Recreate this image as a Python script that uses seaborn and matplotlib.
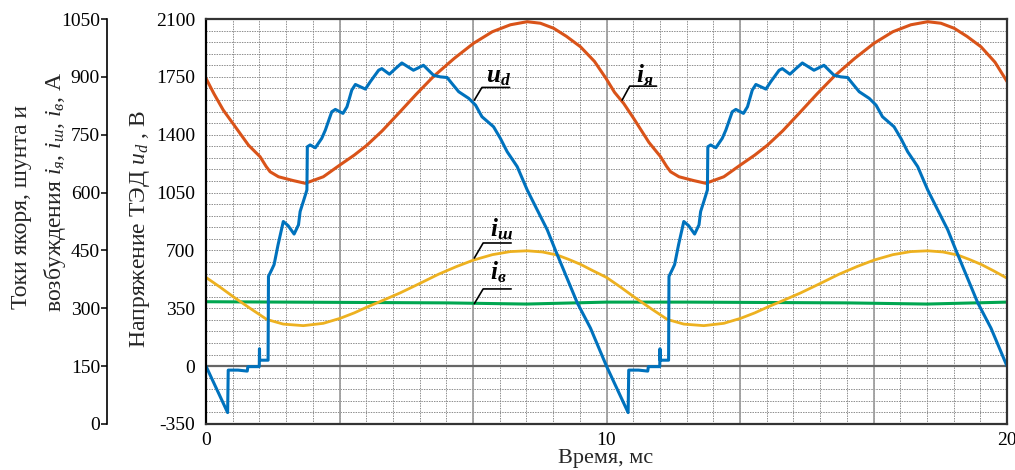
import matplotlib
matplotlib.use("Agg")

import matplotlib.pyplot as plt
import numpy as np
import seaborn as sns
from matplotlib.ticker import MultipleLocator

sns.set_theme(style="white")
plt.rcParams['font.family'] = ['Liberation Serif', 'DejaVu Serif']
plt.rcParams['mathtext.fontset'] = 'custom'
plt.rcParams['mathtext.rm'] = 'Liberation Serif'
plt.rcParams['mathtext.it'] = 'Liberation Serif:italic'
plt.rcParams['mathtext.bf'] = 'Liberation Serif:bold'
plt.rcParams['mathtext.bfit'] = 'Liberation Serif:italic:bold'
plt.rcParams['axes.unicode_minus'] = False

# напряжение ТЭД u_d, В
t_ud = [0.00, 0.54, 0.555, 0.80, 1.03, 1.045, 1.33, 1.335, 1.34, 1.55, 1.56, 1.64, 1.70, 1.80,
        1.93, 2.05, 2.20, 2.31, 2.35, 2.43, 2.52, 2.53, 2.60, 2.73, 2.89, 2.98, 3.14, 3.23,
        3.42, 3.52, 3.64, 3.73, 3.98, 4.10, 4.31, 4.39, 4.58, 4.73, 4.89, 5.18, 5.43, 5.68,
        5.85, 6.02, 6.14, 6.31, 6.56, 6.73, 6.89, 7.18, 7.35, 7.52, 7.77, 8.02, 8.27, 8.52,
        8.72, 9.27, 9.60,
        10.00, 10.54, 10.555, 10.80, 11.03, 11.045, 11.33, 11.335, 11.34, 11.55, 11.56, 11.64,
        11.70, 11.80, 11.93, 12.05, 12.20, 12.31, 12.35, 12.43, 12.52, 12.53, 12.60, 12.73,
        12.89, 12.98, 13.14, 13.23, 13.42, 13.52, 13.64, 13.73, 13.98, 14.10, 14.31, 14.39,
        14.58, 14.73, 14.89, 15.18, 15.43, 15.68, 15.85, 16.02, 16.14, 16.31, 16.56, 16.73,
        16.89, 17.18, 17.35, 17.52, 17.77, 18.02, 18.27, 18.52, 18.72, 19.27, 19.60, 20.00]
u_d = [0, -281, -24, -24, -30, -3, -3, 105, 36, 36, 543, 583, 614, 735,
       875, 850, 799, 855, 935, 996, 1066, 1327, 1338, 1321, 1378, 1428, 1539, 1553,
       1529, 1569, 1670, 1704, 1676, 1720, 1790, 1800, 1766, 1800, 1834, 1790, 1820, 1760,
       1750, 1746, 1710, 1660, 1620, 1579, 1509, 1448, 1378, 1297, 1207, 1066, 945, 825,
       704, 383, 230,
       0, -281, -24, -24, -30, -3, -3, 105, 36, 36, 543, 583,
       614, 735, 875, 850, 799, 855, 935, 996, 1066, 1327, 1338, 1321,
       1378, 1428, 1539, 1553, 1529, 1569, 1670, 1704, 1676, 1720, 1790, 1800,
       1766, 1800, 1834, 1790, 1820, 1760, 1750, 1746, 1710, 1660, 1620, 1579,
       1509, 1448, 1378, 1297, 1207, 1066, 945, 825, 704, 383, 230, 0]

# ток якоря i_я, А
t_ia = [0.00, 0.20, 0.43, 0.68, 1.06, 1.35, 1.50, 1.60, 1.81, 2.18, 2.48, 2.93, 3.35, 3.70,
        4.02, 4.40, 4.85, 5.25, 5.68, 6.20, 6.68, 7.15, 7.60, 8.02, 8.35, 8.68, 9.00, 9.35,
        9.70,
        10.00, 10.20, 10.43, 10.68, 11.06, 11.35, 11.50, 11.60, 11.81, 12.18, 12.48, 12.93,
        13.35, 13.70, 14.02, 14.40, 14.85, 15.25, 15.68, 16.20, 16.68, 17.15, 17.60, 18.02,
        18.35, 18.68, 19.00, 19.35, 19.70, 20.00]
i_ya = [896, 856, 814, 778, 723, 693, 668, 654, 641, 631, 624, 641, 672, 697,
        723, 760, 810, 855, 901, 948, 987, 1017, 1035, 1043, 1039, 1026, 1005, 978,
        940,
        894, 860, 831, 792, 730, 693, 668, 654, 641, 631, 624, 641,
        672, 697, 723, 760, 810, 855, 901, 948, 987, 1017, 1035, 1043,
        1039, 1026, 1005, 978, 938, 888]

# ток шунта i_ш, А
t_ish = [0.00, 0.35, 0.68, 1.10, 1.52, 1.93, 2.43, 2.93, 3.35, 3.70, 4.02, 4.45, 4.85, 5.35,
         5.80, 6.25, 6.68, 7.15, 7.60, 8.02, 8.40, 8.77, 9.05, 9.35, 9.65,
         10.00, 10.35, 10.68, 11.10, 11.52, 11.93, 12.43, 12.93, 13.35, 13.70, 14.02, 14.45,
         14.85, 15.35, 15.80, 16.25, 16.68, 17.15, 17.60, 18.02, 18.40, 18.77, 19.05, 19.35,
         19.65, 20.00]
i_sh = [380, 355, 330, 300, 271, 259, 255, 261, 274, 288, 303, 322, 340, 365,
        388, 408, 425, 439, 447, 449, 446, 438, 427, 414, 398,
        380, 355, 330, 300, 271, 259, 255, 261, 274, 288, 303, 322,
        340, 365, 388, 408, 425, 439, 447, 449, 446, 438, 427, 414,
        398, 378]

# ток возбуждения i_в, А
t_iv = [0, 2, 4, 6, 8, 10, 12, 14, 16, 18, 20]
i_v = [317, 316, 315, 314, 311, 316, 316, 315, 314, 311, 316]

# подписи кривых: (текст, точка на кривой, излом, конец черты, позиция текста) в единицах u_d
callouts = [
    (r"$\mathbfit{u}_{\mathbfit{d}}$", (6.70, 1609), (6.89, 1686), 7.58, (7.00, 1719)),
    (r"$\mathbfit{i}_{\mathbfit{я}}$", (10.39, 1609), (10.58, 1694), 11.25, (10.74, 1719)),
    (r"$\mathbfit{i}_{\mathbfit{ш}}$", (6.70, 654), (6.92, 745), 7.62, (7.08, 782)),
    (r"$\mathbfit{i}_{\mathbfit{в}}$", (6.70, 378), (6.92, 467), 7.62, (7.08, 523)),
]

c_blue = '#0072BD'
c_orange = '#D95319'
c_yellow = '#EDB120'
c_green = '#00A650'

fig = plt.figure(figsize=(10.15, 4.7), dpi=100)
ax_i = fig.add_axes([206 / 1015, 46 / 470, 801 / 1015, 405 / 470])
ax_u = ax_i.twinx()

# сетка
ax_i.set_xlim(0, 20)
ax_i.set_ylim(0, 1050)
ax_i.xaxis.set_major_locator(MultipleLocator(10))
ax_i.xaxis.set_minor_locator(MultipleLocator(2 / 3))
ax_i.yaxis.set_major_locator(MultipleLocator(150))
ax_i.yaxis.set_minor_locator(MultipleLocator(30))
ax_i.grid(which='both', linestyle=(0, (1.6, 1.2)), color='#858585', linewidth=0.65)
ax_i.set_axisbelow(True)
for xv in np.arange(1, 6) * 10 / 3:
    ax_i.axvline(xv, color='#a0a0a0', linewidth=1.3, zorder=1.5)

sns.lineplot(x=t_iv, y=i_v, ax=ax_i, color=c_green, linewidth=2.2, sort=False, estimator=None)
sns.lineplot(x=t_ish, y=i_sh, ax=ax_i, color=c_yellow, linewidth=2.0, sort=False, estimator=None)
sns.lineplot(x=t_ia, y=i_ya, ax=ax_i, color=c_orange, linewidth=2.2, sort=False, estimator=None)

ax_u.set_ylim(-350, 2100)
ax_u.axhline(0, color='#666666', linewidth=1.6, zorder=1)
sns.lineplot(x=t_ud, y=u_d, ax=ax_u, color=c_blue, linewidth=2.2, sort=False, estimator=None)
ax_u.set_ylim(-350, 2100)
ax_u.set_xlim(0, 20)
ax_u.set_yticks(np.arange(-350, 2101, 350))
ax_u.yaxis.tick_left()
ax_u.set_ylabel("")
ax_u.set_xlabel("")

for label, p0, p1, x_end, p_txt in callouts:
    ax_u.plot([p0[0], p1[0], x_end], [p0[1], p1[1], p1[1]], color='black', linewidth=1.2)
    ax_u.text(p_txt[0], p_txt[1], label, fontsize=18, ha='left', va='baseline', color='black')

# оси
ax_i.spines['left'].set_position(('outward', 71.3))
ax_i.spines['left'].set_color('black')
ax_i.spines['left'].set_linewidth(1.2)
for s in ['top', 'right', 'bottom']:
    ax_i.spines[s].set_visible(False)
ax_i.tick_params(axis='y', which='major', direction='out', length=4, width=1.1,
                 color='black', pad=1, labelsize=14, left=True)
ax_i.tick_params(axis='x', which='major', length=0, pad=6, labelsize=14)
ax_i.tick_params(which='minor', length=0)
ax_i.set_xlabel("")
ax_i.set_ylabel("")

for s in ['top', 'right', 'bottom', 'left']:
    ax_u.spines[s].set_visible(True)
    ax_u.spines[s].set_color('#333333')
    ax_u.spines[s].set_linewidth(1.6)
ax_u.spines['left'].set_color('black')
ax_u.tick_params(axis='y', length=0, pad=8, labelsize=14)

for lab in ax_i.get_xticklabels() + ax_i.get_yticklabels() + ax_u.get_yticklabels():
    lab.set_color('black')

fig.text(22 / 1015, 1 - 207 / 470, "Токи якоря, шунта и", rotation=90,
         ha='center', va='center', fontsize=17)
fig.text(55 / 1015, 1 - 192 / 470, "возбуждения $i_я$, $i_ш$, $i_в$, А", rotation=90,
         ha='center', va='center', fontsize=17)
fig.text(140 / 1015, 1 - 229 / 470, "Напряжение ТЭД $u_d$ , В", rotation=90,
         ha='center', va='center', fontsize=17)
fig.text(606 / 1015, 2 / 470, "Время, мс", ha='center', va='bottom', fontsize=16)

plt.savefig("out.png", dpi=100)
